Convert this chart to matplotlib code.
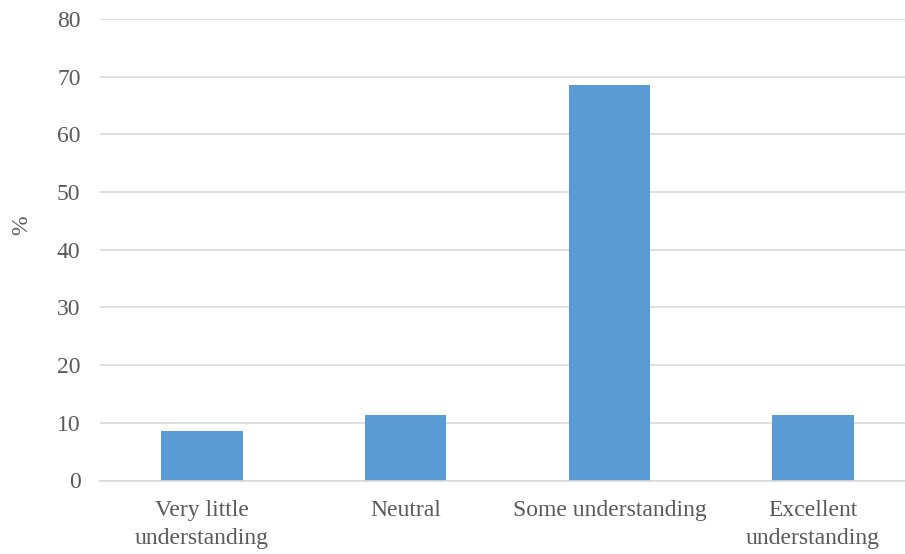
import matplotlib
matplotlib.use("Agg")
import matplotlib.pyplot as plt

# share of respondents per understanding level
categories = ["Very little\nunderstanding", "Neutral", "Some understanding", "Excellent\nunderstanding"]
percent = [8.57, 11.43, 68.57, 11.43]
y_ticks = [0, 10, 20, 30, 40, 50, 60, 70, 80]

plt.rcParams['font.family'] = ['Liberation Serif', 'DejaVu Serif']

W, H = 905, 554
fig = plt.figure(figsize=(W / 100, H / 100), dpi=100)
# plot area runs a little past the right edge of the image
ax = fig.add_axes([100 / W, (H - 480.5) / H, 815 / W, 461.5 / H])

x = range(len(categories))
ax.bar(x, percent, width=0.4, color='#5B9BD5', zorder=3)

ax.set_xlim(-0.5, 3.5)
ax.set_ylim(0, 80)
ax.set_yticks(y_ticks)
ax.set_xticks(list(x))
ax.set_xticklabels(categories, multialignment='center', linespacing=1.45)

ax.grid(axis='y', color='#D9D9D9', linewidth=1.2, zorder=0)
for s in ['top', 'right', 'left']:
    ax.spines[s].set_visible(False)
ax.spines['bottom'].set_color('#D9D9D9')
ax.spines['bottom'].set_linewidth(1.2)
ax.spines['bottom'].set_zorder(4)

ax.tick_params(axis='both', length=0, labelsize=17, labelcolor='#595959')
ax.tick_params(axis='y', pad=14)
ax.tick_params(axis='x', pad=14)

# axis title sits a bit above the middle, as drawn by the spreadsheet
fig.text(22 / W, 1 - 225 / H, '%', rotation=90, fontsize=17, color='#595959',
         ha='center', va='center')

fig.savefig('out.png', dpi=100)
